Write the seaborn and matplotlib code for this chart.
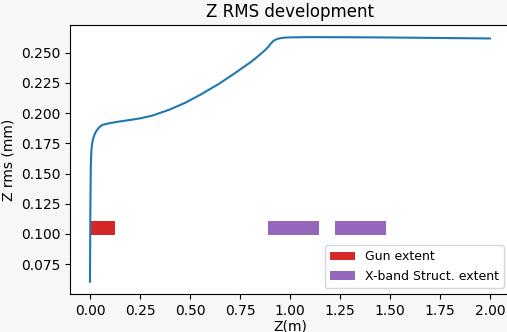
import matplotlib
matplotlib.use("Agg")
import matplotlib.pyplot as plt
import seaborn as sns
import pandas as pd

# Longitudinal RMS beam size along the beamline
z_m = [0.0, 0.002, 0.004, 0.006, 0.008, 0.012, 0.018, 0.026, 0.038, 0.05,
       0.063, 0.1, 0.146, 0.2, 0.25, 0.31, 0.4, 0.477, 0.55, 0.643, 0.72,
       0.809, 0.85, 0.875, 0.892, 0.905, 0.917, 0.935, 0.955, 0.975, 1.0,
       1.1, 1.3, 1.5, 1.75, 2.0]
z_rms_mm = [0.0605, 0.12, 0.155, 0.165, 0.171, 0.176, 0.180, 0.1835, 0.1866, 0.1888,
            0.1903, 0.1917, 0.1930, 0.1943, 0.1956, 0.1978, 0.2030, 0.2086, 0.2150,
            0.2240, 0.2325, 0.2428, 0.2484, 0.2520, 0.2549, 0.2576, 0.2597, 0.2613,
            0.2620, 0.2624, 0.2626, 0.2628, 0.2627, 0.2625, 0.2621, 0.2617]

# Component extents (start, end) in metres
gun_extent = [(0.0, 0.125)]
xband_extents = [(0.89, 1.145), (1.225, 1.48)]
extent_level = 0.105
extent_height = 0.011

df = pd.DataFrame({"z": z_m, "rms": z_rms_mm})

fig = plt.figure(figsize=(5.07, 3.32), dpi=100, facecolor="#f7f7f7")
ax = fig.add_axes([0.138, 0.1145, 0.868, 0.8105])
ax.set_facecolor("white")

sns.lineplot(data=df, x="z", y="rms", ax=ax, color="#1f77b4", linewidth=1.5,
             sort=False, estimator=None)

for i, (a, b) in enumerate(gun_extent):
    ax.barh(extent_level, b - a, left=a, height=extent_height, color="#d62728",
            label="Gun extent" if i == 0 else None)
for i, (a, b) in enumerate(xband_extents):
    ax.barh(extent_level, b - a, left=a, height=extent_height, color="#9467bd",
            label="X-band Struct. extent" if i == 0 else None)

ax.set_title("Z RMS development", fontsize=12)
ax.set_xlabel("Z(m)", fontsize=10, labelpad=1)
ax.set_ylabel("Z rms (mm)", fontsize=10)
ax.set_xticks([0, 0.25, 0.5, 0.75, 1.0, 1.25, 1.5, 1.75, 2.0])
ax.set_yticks([0.075, 0.1, 0.125, 0.15, 0.175, 0.2, 0.225, 0.25])
ax.set_xlim(-0.1, 2.1)
ax.margins(y=0.05)
ax.legend(loc="lower right", fontsize=9)

fig.savefig("out.png", dpi=100, facecolor=fig.get_facecolor())
